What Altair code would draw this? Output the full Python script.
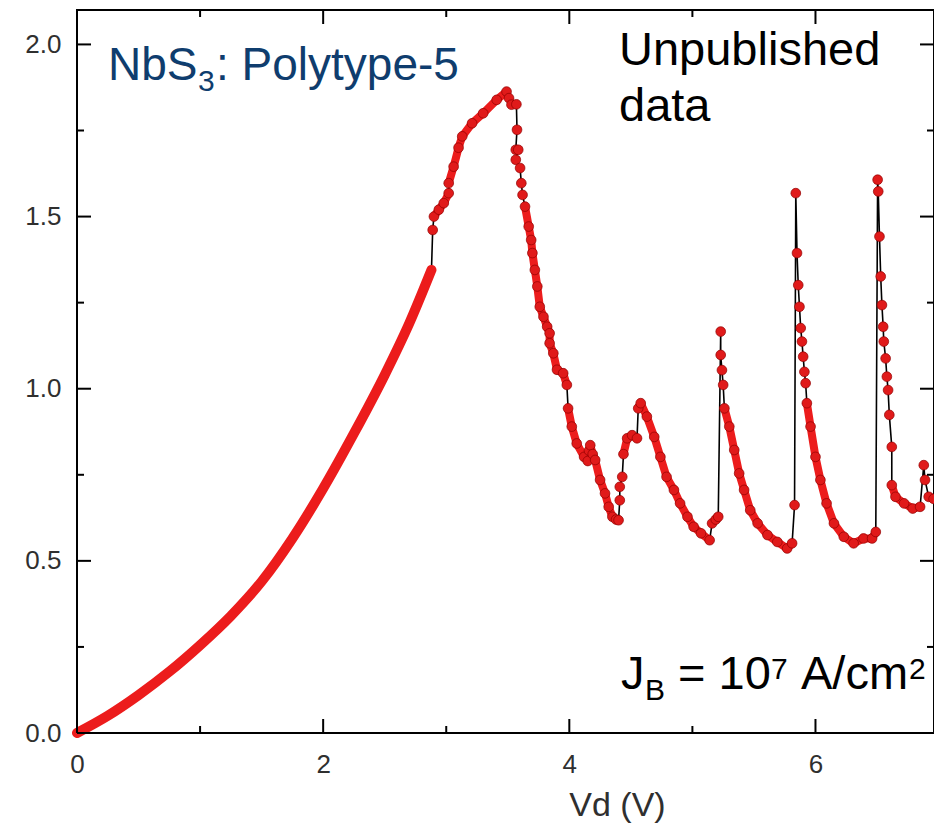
import altair as alt
import pandas as pd

# ---- data ----
# continuous rising branch (dense points, drawn as a band)
rise_v = [0.0, 0.25, 0.5, 0.75, 1.0, 1.25, 1.5, 1.75, 2.0, 2.25, 2.5, 2.7, 2.88]
rise_i = [0.0, 0.05, 0.11, 0.178, 0.255, 0.34, 0.44, 0.565, 0.71, 0.87, 1.04, 1.19, 1.345]

# oscillating branch: voltage, current, segment id (0 = isolated point)
osc_v = [2.89,
         2.90, 2.94, 2.98, 3.02,
         3.02, 3.06, 3.10, 3.13, 3.21, 3.30, 3.41, 3.49,
         3.51, 3.53, 3.57, 3.575, 3.565, 3.585, 3.565, 3.60, 3.61, 3.62,
         3.64, 3.67, 3.69, 3.70, 3.72, 3.74, 3.76, 3.79, 3.82, 3.84, 3.84, 3.87, 3.90, 3.95, 3.98,
         3.99, 4.02, 4.06, 4.12, 4.15, 4.16, 4.17, 4.19, 4.21, 4.25, 4.29, 4.32, 4.35, 4.38, 4.40,
         4.41, 4.41, 4.43,
         4.44, 4.47, 4.51, 4.55,
         4.56, 4.58, 4.63, 4.69, 4.74, 4.79, 4.85, 4.90, 4.96, 5.01, 5.07, 5.14,
         5.16, 5.19, 5.21,
         5.23, 5.23, 5.24, 5.25,
         5.26, 5.30, 5.34, 5.38, 5.42, 5.47, 5.53, 5.61, 5.69, 5.77, 5.81,
         5.83, 5.84, 5.85, 5.86, 5.87, 5.88, 5.89, 5.90, 5.91, 5.92,
         5.93, 5.96, 6.00, 6.04, 6.09, 6.15, 6.23, 6.31, 6.39, 6.46, 6.49,
         6.505, 6.51, 6.52, 6.53, 6.54, 6.55, 6.555, 6.57, 6.58, 6.59, 6.60, 6.62,
         6.62, 6.65, 6.72, 6.79, 6.85,
         6.88, 6.89,
         6.92, 6.96]
osc_i = [1.461,
         1.50, 1.52, 1.539, 1.568,
         1.597, 1.645, 1.70, 1.733, 1.771, 1.80, 1.839, 1.863,
         1.844, 1.825, 1.826, 1.752, 1.694, 1.694, 1.665, 1.641, 1.597, 1.563,
         1.529, 1.471, 1.432, 1.394, 1.345, 1.297, 1.238, 1.209, 1.18, 1.161, 1.132, 1.103, 1.055, 1.045, 1.011,
         0.943, 0.89, 0.841, 0.802, 0.79, 0.82, 0.836, 0.81, 0.793, 0.735, 0.696, 0.657, 0.628, 0.62, 0.618,
         0.676, 0.715, 0.744,
         0.81, 0.856, 0.865, 0.856,
         0.943, 0.958, 0.919, 0.86, 0.802, 0.744, 0.706, 0.667, 0.628, 0.599, 0.58, 0.56,
         0.609, 0.62, 0.628,
         1.166, 1.098, 1.054, 1.011,
         0.943, 0.89, 0.822, 0.754, 0.706, 0.647, 0.609, 0.575, 0.555, 0.536, 0.551,
         0.662, 1.568, 1.394, 1.301, 1.238, 1.176, 1.137, 1.093, 1.049, 1.016,
         0.958, 0.89, 0.802, 0.735, 0.667, 0.609, 0.57, 0.551, 0.565, 0.565, 0.584,
         1.607, 1.573, 1.442, 1.326, 1.243, 1.18, 1.137, 1.088, 1.035, 0.996, 0.924, 0.831,
         0.72, 0.686, 0.667, 0.652, 0.657,
         0.778, 0.735,
         0.686, 0.68]
osc_seg = [0,
           2, 2, 2, 2,
           3, 3, 3, 3, 3, 3, 3, 3,
           0, 0, 0, 0, 0, 0, 0, 0, 0, 0,
           4, 4, 4, 4, 4, 4, 4, 4, 4, 4, 4, 4, 4, 4, 4,
           5, 5, 5, 5, 5, 5, 5, 5, 5, 5, 5, 5, 5, 5, 5,
           0, 0, 0,
           6, 6, 6, 6,
           7, 7, 7, 7, 7, 7, 7, 7, 7, 7, 7, 7,
           8, 8, 8,
           0, 0, 0, 0,
           9, 9, 9, 9, 9, 9, 9, 9, 9, 9, 9,
           0, 0, 0, 0, 0, 0, 0, 0, 0, 0,
           10, 10, 10, 10, 10, 10, 10, 10, 10, 10, 10,
           0, 0, 0, 0, 0, 0, 0, 0, 0, 0, 0, 0,
           11, 11, 11, 11, 11,
           0, 0,
           12, 12]

x_major = [0, 2, 4, 6]
x_minor = [1, 3, 5]
y_major = [0.0, 0.5, 1.0, 1.5, 2.0]
y_minor = [0.25, 0.75, 1.25, 1.75]

# ---- tables ----
rise = pd.DataFrame({"v": rise_v, "i": rise_i, "seg": 1})
osc = pd.DataFrame({"v": osc_v, "i": osc_i, "seg": osc_seg})
allpts = pd.concat([rise, osc], ignore_index=True)
allpts["idx"] = range(len(allpts))
band_rise = allpts[allpts["seg"] == 1]
band_osc = allpts[allpts["seg"] > 1]
pts = allpts.iloc[len(rise):]

W, H = 857, 723
FONT = "Liberation Sans"
RED = "#ec1c1c"
NAVY = "#0f3d6e"
LABEL = "#2f2f2f"

X = alt.X("v:Q", scale=alt.Scale(domain=[0, 6.963], nice=False, zero=False),
          axis=alt.Axis(values=x_major, format="d", title="Vd (V)", grid=False, domain=False,
                        ticks=False, tickSize=0, labelPadding=18, labelFlush=False,
                        labelFontSize=26, labelFont=FONT, labelColor=LABEL,
                        titleFont=FONT, titleFontSize=34, titleFontWeight="normal",
                        titleColor=LABEL, titleX=540, titleY=82, titleAlign="center",
                        titleBaseline="alphabetic"))
Y = alt.Y("i:Q", scale=alt.Scale(domain=[0, 2.1], nice=False, zero=False),
          axis=alt.Axis(values=y_major, format=".1f", title=None, grid=False, domain=False,
                        ticks=False, tickSize=0, labelPadding=16, labelFlush=False,
                        labelFontSize=26, labelFont=FONT, labelColor=LABEL))

line = alt.Chart(allpts).mark_line(color="black", strokeWidth=1.6).encode(
    x=X, y=Y, order="idx:Q")
band1 = alt.Chart(band_rise).mark_line(color=RED, strokeWidth=10, strokeCap="round",
                                       strokeJoin="round", interpolate="monotone").encode(
    x=X, y=Y, order="idx:Q")
band2 = alt.Chart(band_osc).mark_line(color=RED, strokeWidth=8, strokeCap="round",
                                      strokeJoin="round").encode(
    x=X, y=Y, detail="seg:N", order="idx:Q")
dots = alt.Chart(pts).mark_circle(size=95, color="#e01a1a", opacity=1,
                                  stroke="#900000", strokeWidth=0.7).encode(x=X, y=Y)

def xticks(vals, length):
    d = pd.DataFrame({"v": vals})
    b = alt.Chart(d).mark_rule(color="black", strokeWidth=2).encode(
        x=X, y=alt.value(H), y2=alt.value(H - length))
    t = alt.Chart(d).mark_rule(color="black", strokeWidth=2).encode(
        x=X, y=alt.value(0), y2=alt.value(length))
    return [b, t]

def yticks(vals, length):
    d = pd.DataFrame({"i": vals})
    l = alt.Chart(d).mark_rule(color="black", strokeWidth=2).encode(
        y=Y, x=alt.value(0), x2=alt.value(length))
    r = alt.Chart(d).mark_rule(color="black", strokeWidth=2).encode(
        y=Y, x=alt.value(W), x2=alt.value(W - length))
    return [l, r]

def txt(s, x, y, size, color):
    return alt.Chart(alt.Data(values=[{}])).mark_text(
        text=s, align="left", baseline="alphabetic", font=FONT, fontSize=size,
        color=color).encode(x=alt.value(x), y=alt.value(y))

texts = [
    txt("NbS", 31, 70, 46, NAVY),
    txt("3", 121, 81, 30, NAVY),
    txt(": Polytype-5", 139, 70, 46, NAVY),
    txt("Unpublished", 542, 55, 47, "black"),
    txt("data", 542, 111, 47, "black"),
    txt("J", 544, 679, 47, "black"),
    txt("B", 568, 690, 30, "black"),
    txt("= 10", 601, 679, 47, "black"),
    txt("7", 694, 669, 30, "black"),
    txt("A/cm", 724, 679, 47, "black"),
    txt("2", 832, 669, 30, "black"),
]

layers = [line, band1, band2, dots] + xticks(x_major, 14) + xticks(x_minor, 7) \
    + yticks(y_major, 14) + yticks(y_minor, 7) + texts

chart = alt.layer(*layers).properties(
    width=W, height=H,
    padding={"left": 69, "top": 2, "right": 0, "bottom": 90},
    autosize=alt.AutoSizeParams(type="none"),
).configure_view(stroke="black", strokeWidth=2)

chart.save("out.html", embed_options={"renderer": "svg", "actions": False})
